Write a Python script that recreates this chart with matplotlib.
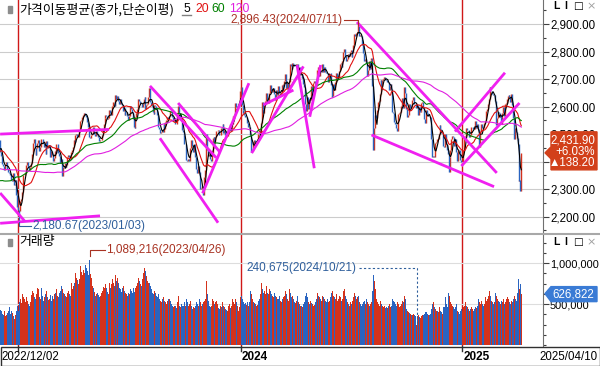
import numpy as np
import pandas as pd
import matplotlib
matplotlib.use("Agg")
import matplotlib.pyplot as plt
from matplotlib.patches import Polygon, Rectangle
from matplotlib.ticker import MultipleLocator, FuncFormatter

plt.rcParams['font.family'] = ['Liberation Sans', 'DejaVu Sans']

# KOSPI daily closes. pre_close = the 120 sessions before 2022/12/02 (only used for the moving averages)
pre_close = [
    2595, 2504, 2492, 2447, 2451, 2440, 2391, 2408, 2342, 2314, 2366, 2401, 2422, 2377, 2332,
    2305, 2300, 2341, 2292, 2330, 2350, 2340, 2317, 2328, 2322, 2330, 2376, 2370, 2386, 2393, 2393, 2403, 2412, 2415, 2435, 2451,
    2452, 2439, 2461, 2473, 2490, 2493, 2503, 2480, 2523, 2527, 2533, 2516, 2508, 2492, 2462, 2435, 2447, 2477, 2481, 2426, 2450, 2472,
    2415, 2409, 2403, 2410, 2376, 2384, 2449, 2411, 2401, 2382, 2355, 2367, 2347, 2332, 2290, 2220, 2223, 2169, 2170, 2155,
    2209, 2215, 2237, 2232, 2192, 2202, 2162, 2212, 2219, 2249, 2237, 2218, 2213, 2236, 2235, 2236, 2246, 2268, 2293,
    2335, 2337, 2329, 2348, 2371, 2399, 2424, 2402, 2483, 2474, 2480, 2477, 2442, 2444, 2419, 2406, 2418, 2441, 2437, 2408, 2433, 2473,
    2480,
]

close_2022 = [2434, 2419, 2393, 2383, 2371, 2389, 2390, 2399, 2372, 2361,
              2360, 2352, 2333, 2329, 2357, 2314, 2317, 2333, 2280, 2236]

close_2023 = [
    2226, 2219, 2256, 2265, 2290, 2350, 2351, 2360, 2365, 2386, 2400, 2379, 2368, 2380, 2395, 2429, 2469, 2484, 2450, 2425,
    2450, 2469, 2480, 2438, 2452, 2484, 2482, 2469, 2453, 2466, 2428, 2475, 2451, 2455, 2459, 2418, 2439, 2424, 2403, 2413,
    2438, 2432, 2463, 2463, 2432, 2419, 2395, 2411, 2349, 2380, 2378, 2396, 2379, 2388, 2417, 2424, 2415, 2409, 2434, 2444, 2453, 2477,
    2472, 2495, 2501, 2490, 2490, 2512, 2548, 2551, 2562, 2571, 2576, 2576, 2571, 2563, 2544, 2524, 2489, 2485, 2496, 2502,
    2524, 2501, 2501, 2493, 2510, 2497, 2491, 2475, 2479, 2480, 2495, 2515, 2538, 2557, 2568, 2566, 2555, 2559, 2586, 2577,
    2569, 2601, 2615, 2616, 2601, 2641, 2629, 2638, 2619, 2609, 2626, 2610, 2605, 2583, 2594, 2570, 2582, 2582, 2564, 2550, 2564,
    2602, 2593, 2579, 2556, 2527, 2521, 2562, 2575, 2591, 2628, 2620, 2608, 2608, 2599, 2610, 2628, 2636, 2592, 2604, 2608, 2633,
    2667, 2616, 2605, 2603, 2581, 2574, 2605, 2602, 2591, 2571, 2526, 2520, 2505, 2509, 2516, 2506, 2538, 2519, 2543, 2552, 2561, 2556,
    2564, 2585, 2582, 2563, 2548, 2548, 2557, 2537, 2535, 2573, 2601, 2575, 2559, 2560, 2515, 2508, 2496, 2463, 2465,
    2406, 2404, 2409, 2403, 2450, 2480, 2456, 2436, 2460, 2463, 2416, 2375, 2357, 2384, 2363, 2299, 2303, 2311, 2278,
    2302, 2343, 2368, 2502, 2444, 2422, 2427, 2410, 2404, 2433, 2487, 2488, 2470, 2491, 2510, 2512, 2515, 2497, 2496, 2522, 2520, 2535,
    2505, 2515, 2495, 2492, 2493, 2518, 2525, 2535, 2511, 2538, 2564, 2567, 2569, 2614, 2600, 2600, 2603, 2614, 2655,
]

close_2024 = [
    2670, 2607, 2587, 2578, 2568, 2561, 2563, 2540, 2525, 2526, 2498, 2436, 2440, 2473, 2464, 2479, 2470, 2470, 2479, 2501, 2499, 2497,
    2542, 2615, 2591, 2576, 2610, 2620, 2650, 2620, 2614, 2649, 2680, 2658, 2653, 2664, 2668, 2647, 2625, 2659, 2642,
    2674, 2649, 2641, 2648, 2680, 2660, 2682, 2694, 2719, 2667, 2686, 2656, 2690, 2755, 2749, 2738, 2757, 2755, 2746, 2747,
    2748, 2753, 2707, 2742, 2714, 2718, 2705, 2707, 2682, 2670, 2610, 2584, 2635, 2592, 2629, 2623, 2676, 2629, 2656, 2687, 2692,
    2684, 2677, 2734, 2745, 2712, 2728, 2727, 2730, 2753, 2725, 2742, 2724, 2723, 2722, 2688, 2723, 2723, 2677, 2635, 2637,
    2683, 2662, 2690, 2723, 2701, 2705, 2728, 2755, 2758, 2744, 2764, 2797, 2808, 2784, 2765, 2774, 2792, 2784, 2798,
    2804, 2781, 2794, 2825, 2862, 2858, 2867, 2868, 2891, 2857, 2861, 2857, 2844, 2824, 2795, 2764, 2774, 2759, 2711, 2732, 2766, 2738, 2771,
    2778, 2676, 2442, 2522, 2568, 2557, 2588, 2618, 2622, 2645, 2697, 2674, 2697, 2701, 2708, 2702, 2698, 2689, 2690, 2662, 2674,
    2681, 2665, 2581, 2576, 2544, 2536, 2523, 2513, 2572, 2575, 2581, 2593, 2602, 2632, 2596, 2672, 2650, 2593,
    2562, 2570, 2610, 2594, 2599, 2597, 2623, 2633, 2610, 2609, 2594, 2604, 2571, 2600, 2581, 2583, 2612, 2618, 2594, 2556,
    2542, 2589, 2577, 2564, 2565, 2561, 2532, 2483, 2417, 2419, 2417, 2469, 2472, 2482, 2481, 2501, 2534, 2520, 2503, 2505, 2456,
    2454, 2500, 2464, 2442, 2428, 2361, 2418, 2443, 2482, 2494, 2489, 2457, 2484, 2436, 2404, 2442, 2441, 2430, 2405, 2399,
]

close_2025 = [
    2399, 2442, 2489, 2492, 2521, 2516, 2516, 2490, 2497, 2496, 2524, 2524, 2520, 2518, 2547, 2522, 2537, 2517,
    2454, 2482, 2509, 2537, 2522, 2521, 2539, 2548, 2583, 2591, 2610, 2627, 2672, 2655, 2655, 2645, 2641, 2641, 2622, 2533,
    2558, 2581, 2576, 2563, 2570, 2538, 2575, 2599, 2566, 2611, 2612, 2629, 2637, 2643, 2633, 2616, 2644, 2607, 2558, 2481,
    2521, 2506, 2487, 2465, 2328, 2334, 2293.70, 2431.90,
]

# volume, thousand shares
vol_2022 = [430, 390, 420, 380, 360, 410, 350, 370, 390, 420, 460, 380, 360, 410, 390, 350, 320, 370, 420, 480]

vol_2023 = [
    410, 520, 560, 540, 510, 620, 580, 560, 520, 590, 540, 500, 480, 520, 510, 610, 660, 640, 590, 560,
    620, 700, 680, 580, 560, 640, 690, 600, 540, 580, 620, 660, 590, 550, 560, 610, 580, 540, 600, 560,
    620, 640, 680, 600, 580, 640, 660, 610, 720, 680, 640, 620, 600, 580, 640, 660, 620, 600, 700, 760, 680, 720,
    760, 880, 820, 790, 740, 800, 930, 960, 890, 860, 920, 880, 980, 940, 900, 860, 1040, 1089.216, 870, 820,
    720, 690, 650, 600, 620, 640, 610, 580, 560, 600, 630, 660, 710, 690, 740, 700, 650, 620, 760, 720,
    690, 740, 800, 760, 720, 850, 780, 820, 760, 700, 740, 680, 650, 700, 720, 660, 640, 620, 600, 640, 620,
    720, 680, 660, 640, 700, 650, 690, 720, 760, 820, 780, 760, 740, 720, 800, 880, 940, 900, 840, 780, 760,
    820, 760, 720, 680, 640, 620, 660, 640, 600, 580, 620, 600, 560, 540, 520, 560, 580, 540, 520, 500, 540, 560,
    520, 560, 540, 500, 480, 460, 480, 470, 450, 520, 600, 540, 480, 460, 500, 480, 470, 520, 480,
    560, 520, 480, 460, 500, 540, 480, 440, 460, 450, 480, 520, 500, 470, 460, 560, 520, 480, 500,
    520, 540, 560, 780, 620, 540, 500, 480, 460, 480, 560, 540, 500, 520, 540, 500, 480, 450, 440, 470, 460, 520,
    480, 460, 440, 430, 420, 470, 480, 500, 450, 480, 560, 520, 500, 560, 520, 480, 430, 420, 460,
]

vol_2024 = [
    580, 600, 560, 520, 500, 510, 490, 520, 480, 470, 520, 660, 620, 560, 520, 510, 500, 480, 490, 560, 540, 560,
    620, 760, 680, 640, 660, 620, 720, 640, 600, 620, 680, 660, 620, 600, 580, 640, 600, 580, 560,
    580, 560, 600, 540, 520, 560, 580, 600, 660, 620, 560, 520, 540, 680, 640, 580, 600, 560, 520, 510,
    540, 560, 600, 520, 500, 480, 470, 460, 500, 520, 600, 640, 560, 580, 520, 500, 540, 510, 500, 480, 490,
    520, 560, 620, 640, 600, 580, 560, 540, 600, 580, 560, 540, 520, 500, 560, 520, 540, 580, 640, 660,
    600, 580, 560, 620, 560, 540, 560, 600, 580, 540, 560, 660, 680, 600, 560, 540, 520, 500, 480,
    520, 500, 540, 580, 640, 600, 560, 540, 580, 600, 520, 500, 480, 500, 520, 540, 500, 480, 560, 520, 500, 480, 500,
    520, 660, 860, 780, 680, 600, 560, 520, 500, 480, 540, 500, 480, 460, 470, 450, 440, 460, 450, 480, 500,
    460, 480, 560, 540, 520, 500, 480, 470, 520, 500, 460, 480, 500, 540, 520, 600, 560, 520,
    440, 420, 400, 390, 380, 370, 360, 380, 370, 350, 340, 240.675, 350, 360, 340, 330, 350, 370, 360, 380,
    400, 420, 400, 380, 370, 360, 380, 440, 500, 520, 460, 480, 440, 420, 410, 400, 460, 420, 400, 380, 460,
    460, 520, 580, 500, 460, 640, 600, 520, 500, 480, 460, 440, 420, 460, 500, 420, 400, 380, 420, 440,
]

vol_2025 = [
    420, 460, 480, 500, 520, 480, 460, 440, 420, 440, 460, 440, 420, 440, 480, 460, 450, 480,
    560, 520, 500, 540, 500, 480, 500, 520, 580, 540, 560, 600, 660, 600, 540, 520, 500, 520, 540, 640,
    600, 560, 540, 520, 500, 540, 520, 560, 500, 540, 520, 560, 580, 560, 520, 500, 540, 520, 560, 660,
    600, 560, 540, 640, 800, 680, 740, 626.822,
]

first_date, last_date = "2022/12/02", "2025/04/10"
year_labels = ["2024", "2025"]
ma_periods = [5, 20, 60, 120]
ma_colors = ["#000000", "#e01010", "#008000", "#e020e0"]
legend_title = "가격이동평균(종가,단순이평)"
high_value, high_text = 2896.43, "2,896.43(2024/07/11)"
low_value, low_text = 2180.67, "2,180.67(2023/01/03)"
vmax_text = "1,089,216(2023/04/26)"
vmin_text = "240,675(2024/10/21)"

# hand drawn trend lines: (session index, price) pairs
trend_lines = [
    ((0, 2500), (120, 2517)),
    ((0, 2176), (110, 2203)),
    ((0, 2286), (27, 2184)),
    ((165, 2675), (238, 2414)),
    ((196, 2613), (242, 2435)),
    ((176, 2485), (240, 2178)),
    ((223, 2285), (274, 2685)),
    ((277, 2431), (334, 2746)),
    ((290, 2606), (323, 2660)),
    ((327, 2751), (346, 2376)),
    ((341, 2563), (353, 2751)),
    ((393, 2907), (547, 2359)),
    ((409, 2497), (544, 2309)),
    ((501, 2509), (556, 2723)),
    ((508, 2384), (572, 2613)),
]

# ---- derived series ----
closes = np.array(close_2022 + close_2023 + close_2024 + close_2025, dtype=float)
volume = np.array(vol_2022 + vol_2023 + vol_2024 + vol_2025, dtype=float) * 1000
n = len(closes)
x = np.arange(n)
opens = np.concatenate([[pre_close[-1]], closes[:-1]])
up = closes >= opens
lo = np.minimum(opens, closes)
hi = np.maximum(opens, closes)
i_hi = int(np.argmax(closes))
i_lo = int(np.argmin(closes))
hi[i_hi] = high_value
lo[i_lo] = low_value

full = pd.Series(pre_close + list(closes))
mas = [full.rolling(p).mean().to_numpy()[len(pre_close):] for p in ma_periods]
year_starts = np.cumsum([len(close_2022), len(close_2023), len(close_2024)])

red, blue = "#d4321c", "#2a64c0"
dark_red, text_blue = "#a83222", "#2f5f9c"

# ---- layout (pixels) ----
W, H = 600, 366
fig = plt.figure(figsize=(W / 100, H / 100), dpi=100)
fig.patch.set_facecolor("white")


def box(x0, y0, x1, y1):
    return [x0 / W, 1 - y1 / H, (x1 - x0) / W, (y1 - y0) / H]


ax = fig.add_axes(box(0, 0, 543, 233))
axv = fig.add_axes(box(0, 235, 543, 346))
xlim = (-0.15, 597.9)
ylim = (2140.7, 2987.2)
vlim = (-12200, 1342000)


def dx(px):
    return px * (xlim[1] - xlim[0]) / 543


def dp(px):
    return px * (ylim[1] - ylim[0]) / 233


def dv(px):
    return px * (vlim[1] - vlim[0]) / 111


for a in (ax, axv):
    a.set_xlim(*xlim)
    a.set_xticks([])
    a.yaxis.tick_right()
    for s in ("top", "left", "bottom"):
        a.spines[s].set_visible(False)
    a.spines["right"].set_color("#707070")
    a.tick_params(axis="y", which="major", length=4, width=0.8, pad=1, labelsize=8.3, color="#404040")
    a.tick_params(axis="y", which="minor", length=2.5, width=0.8, color="#404040")
    for ys in year_starts:
        a.axvline(ys, color="#d01818", lw=1.0, zorder=1)

# price panel
ax.set_ylim(*ylim)
ax.set_yticks(np.arange(2200, 2901, 100))
ax.yaxis.set_major_formatter(FuncFormatter(lambda v, p: f"{v:,.2f}"))
ax.yaxis.set_minor_locator(MultipleLocator(50))
ax.grid(axis="y", which="major", color="#cccccc", lw=0.8, zorder=0)

ax.vlines(x[up], lo[up], hi[up], color=red, lw=1.0, zorder=3)
ax.vlines(x[~up], lo[~up], hi[~up], color=blue, lw=1.0, zorder=3)
for m, c in zip(mas, ma_colors):
    ax.plot(x, m, color=c, lw=0.8, zorder=4)
for (a0, b0), (a1, b1) in trend_lines:
    ax.plot([a0, a1], [b0, b1], color="#f020f0", lw=2.0, zorder=5, solid_capstyle="butt")

yl = high_value + dp(5)
ax.plot([i_hi - dx(14), i_hi, i_hi], [yl, yl, high_value], color=dark_red, lw=0.8, zorder=6)
ax.text(i_hi - dx(15), yl, high_text, ha="right", va="center", color=dark_red, fontsize=8.5, zorder=6)
yl = low_value - dp(4)
ax.plot([i_lo, i_lo, i_lo + dx(12)], [low_value, yl, yl], color=text_blue, lw=0.8, zorder=6)
ax.text(i_lo + dx(13), yl, low_text, ha="left", va="center", color=text_blue, fontsize=8.5, zorder=6)

# volume panel
axv.set_ylim(*vlim)
axv.set_yticks([500000, 1000000])
axv.yaxis.set_major_formatter(FuncFormatter(lambda v, p: f"{int(v):,}"))
axv.yaxis.set_minor_locator(MultipleLocator(125000))
axv.tick_params(axis="y", which="major", labelsize=7.9)
axv.grid(axis="y", which="major", color="#dddddd", lw=0.8, zorder=0)
axv.bar(x, volume, width=1.0, color=np.where(up, red, blue), linewidth=0, zorder=3)

i_vmax = int(np.argmax(volume))
i_vmin = int(np.argmin(volume))
yl = volume[i_vmax] + dv(6)
axv.plot([i_vmax, i_vmax, i_vmax + dx(15)], [volume[i_vmax], yl, yl], color=dark_red, lw=0.8, zorder=6)
axv.text(i_vmax + dx(16), yl, vmax_text, ha="left", va="center", color=dark_red, fontsize=8.5, zorder=6)
yl = volume[i_vmin] + dv(57)
axv.plot([i_vmin - dx(58), i_vmin, i_vmin], [yl, yl, volume[i_vmin]], color=text_blue, lw=0.8,
         ls=(0, (2, 2)), zorder=6)
axv.text(i_vmin - dx(60), yl, vmin_text, ha="right", va="center", color=text_blue, fontsize=8.5, zorder=6)

# ---- overlay in pixel coordinates ----
ov = fig.add_axes([0, 0, 1, 1], zorder=10)
ov.set_xlim(0, W)
ov.set_ylim(H, 0)
ov.axis("off")
ov.patch.set_alpha(0)

ov.plot([0, W], [234, 234], color="#a8a8a8", lw=1.5)
ov.add_patch(Rectangle((0.5, 346.5), W - 1, 19, fill=False, ec="#303030", lw=1.0))

kfont = ["Noto Sans CJK KR", "DejaVu Sans"]
ov.add_patch(Rectangle((8, 6), 4, 7, color="#8c8c8c"))
ov.text(19, 9.5, legend_title, family=kfont, fontsize=9.3, va="center", ha="left")
for lx, p, c in zip([183, 195, 211, 229], ma_periods, ma_colors):
    ov.text(lx, 9.5, str(p), color=c, fontsize=8.8, va="center", ha="left")
ov.plot([182, 191], [15, 15], color="#808080", lw=1)
ov.add_patch(Rectangle((8, 238.5), 4, 7, color="#8c8c8c"))
ov.text(19, 242, "거래량", family=kfont, fontsize=9.3, va="center", ha="left")

for cy in (6, 242):
    ov.text(556, cy, "L", fontsize=7.5, fontweight="bold", ha="center", va="center")
    ov.text(566, cy, "I", fontsize=7.5, fontweight="bold", ha="center", va="center")
    ov.text(578, cy, "□", fontsize=7.5, ha="center", va="center", family=["DejaVu Sans"])
    ov.text(591, cy, "×", fontsize=8, ha="center", va="center", color="#a0a0a0", family=["DejaVu Sans"])

# date strip
for ys in year_starts:
    px = ax.transData.transform((ys, 0))[0]
    ov.plot([px, px], [346, 351], color="#303030", lw=1)
ov.text(1, 357, first_date, fontsize=8.3, ha="left", va="center")
for ys, lab in zip(year_starts[1:], year_labels):
    px = ax.transData.transform((ys, 0))[0]
    ov.text(px + 1, 357, lab, fontsize=8.5, fontweight="bold", ha="left", va="center")
ov.text(598, 357, last_date, fontsize=8.3, ha="right", va="center")

# last price badge
chg = closes[-1] - closes[-2]
pct = chg / closes[-2] * 100
yb = H - ax.transData.transform((0, closes[-1]))[1]
ov.add_patch(Polygon([(545, yb), (551, yb - 6), (551, yb - 21), (597, yb - 21), (597, yb + 17),
                      (551, yb + 17), (551, yb + 6)], closed=True, color="#d2401a", zorder=3))
ov.text(595, yb - 12.5, f"{closes[-1]:,.2f}", color="white", fontsize=8.3, ha="right", va="center")
ov.text(595, yb - 1, f"+{pct:.2f}%", color="white", fontsize=8.3, ha="right", va="center")
ov.text(595, yb + 10.5, f"▲{chg:.2f}", color="white", fontsize=8.3, ha="right", va="center")

# last volume badge
yv = H - axv.transData.transform((0, volume[-1]))[1]
ov.add_patch(Polygon([(545, yv), (551, yv - 7), (597, yv - 7), (597, yv + 8), (551, yv + 8)],
                     closed=True, color="#3a7bd5", zorder=3))
ov.text(594, yv + 0.5, f"{int(round(volume[-1])):,}", color="white", fontsize=8.3, ha="right", va="center")

fig.savefig("out.png", dpi=100)
